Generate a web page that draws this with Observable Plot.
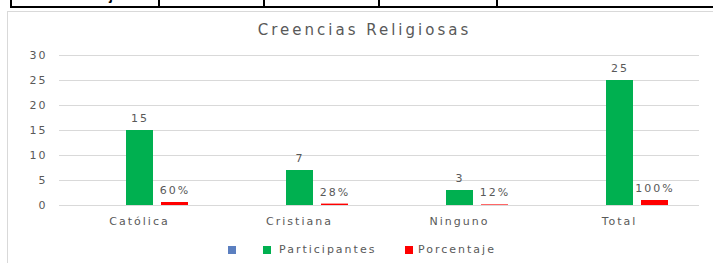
<!DOCTYPE html>
<html>
<head>
<meta charset="utf-8">
<script src="https://cdn.jsdelivr.net/npm/d3@7"></script>
<script src="https://cdn.jsdelivr.net/npm/@observablehq/plot@0.6"></script>
<style>
  html, body { margin: 0; padding: 0; background: #fff; }
  body { width: 713px; height: 263px; position: relative; overflow: hidden; font-family: "DejaVu Sans", sans-serif; }
  .tbl { position: absolute; left: 0; top: 0; width: 713px; height: 8px; overflow: hidden; }
  .cell { position: absolute; top: -20px; height: 28px; box-sizing: border-box; border-bottom: 2px solid #000; border-left: 2px solid #000; }
  .cell span { position: absolute; top: 8px; left: 0; right: 0; text-align: center; font: bold 14px/14px "Liberation Sans", Arial, sans-serif; color: #000; }
  .box { position: absolute; left: 7px; top: 11px; width: 720px; height: 270px; border-left: 1px solid #d9d9d9; border-top: 1px solid #d9d9d9; }
  .title { position: absolute; left: 0; top: 21px; width: 729px; text-align: center; font-size: 15px; letter-spacing: 3px; color: #595959; }
  #chart { position: absolute; left: 0; top: 40px; }
  .legend { position: absolute; top: 243px; left: 0; font-size: 11px; letter-spacing: 2px; color: #595959; }
  .legend .item { position: absolute; top: 0; white-space: nowrap; line-height: 13px; }
  .legend .sw { position: absolute; top: 3px; width: 8px; height: 8px; }
</style>
</head>
<body>
<div class="tbl" id="tbl"></div>
<div class="box"></div>
<div class="title">Creencias Religiosas</div>
<div id="chart"></div>
<div class="legend" id="legend"></div>
<script>
// --- data ---
const categories = ["Católica", "Cristiana", "Ninguno", "Total"];
const seriesNames = ["Serie1", "Participantes", "Porcentaje"];
const seriesLegend = ["", "Participantes", "Porcentaje"];
const serie1 = [null, null, null, null];
const participantes = [15, 7, 3, 25];
const porcentaje = [0.60, 0.28, 0.12, 1.00];
const porcentajeLabels = ["60%", "28%", "12%", "100%"];
const yTicks = [0, 5, 10, 15, 20, 25, 30];
const colors = ["#5b7fc0", "#00b050", "#ff0000"];
const tableHeader = ["Porcentaje", "60%", "28%", "12%", "100%"];

// --- clipped table row at top ---
const cellEdges = [10, 158, 263, 378, 496, 740];
const tbl = document.getElementById("tbl");
tableHeader.forEach((t, i) => {
  const c = document.createElement("div");
  c.className = "cell";
  c.style.left = cellEdges[i] + "px";
  c.style.width = (cellEdges[i + 1] - cellEdges[i]) + "px";
  const s = document.createElement("span");
  s.textContent = t;
  c.appendChild(s);
  tbl.appendChild(c);
});

// --- rows ---
const rows = [];
categories.forEach((cat, i) => {
  rows.push({cat, series: "Serie1", value: serie1[i], label: ""});
  rows.push({cat, series: "Participantes", value: participantes[i], label: String(participantes[i])});
  rows.push({cat, series: "Porcentaje", value: porcentaje[i], label: porcentajeLabels[i]});
});
const barRows = rows.filter(d => d.value != null);

const chart = Plot.plot({
  width: 713,
  height: 190,
  marginLeft: 57,
  marginRight: 13,
  marginTop: 15,
  marginBottom: 25,
  style: {fontFamily: "DejaVu Sans", fontSize: "11px", letterSpacing: "2px", color: "#595959", background: "transparent"},
  fx: {domain: categories, padding: 0, label: null, axis: "bottom", tickSize: 0, tickPadding: 12},
  x: {domain: seriesNames, paddingInner: 0.23, paddingOuter: 0.88, axis: null},
  y: {domain: [0, 30], ticks: yTicks, label: null, tickSize: 0, tickPadding: 12},
  color: {domain: seriesNames, range: colors},
  marks: [
    Plot.ruleY(yTicks, {stroke: "#d9d9d9", strokeWidth: 1}),
    Plot.barY(barRows, {fx: "cat", x: "series", y: "value", fill: "series"}),
    Plot.text(barRows, {fx: "cat", x: "series", y: "value", text: "label", dy: -12, fill: "#595959", fontSize: 11})
  ]
});
document.getElementById("chart").appendChild(chart);

// --- legend ---
const legendPos = [{sw: 228, tx: 240}, {sw: 263, tx: 279}, {sw: 405, tx: 418}];
const legend = document.getElementById("legend");
seriesLegend.forEach((name, i) => {
  const sw = document.createElement("div");
  sw.className = "sw";
  sw.style.left = legendPos[i].sw + "px";
  sw.style.background = colors[i];
  legend.appendChild(sw);
  const it = document.createElement("div");
  it.className = "item";
  it.style.left = legendPos[i].tx + "px";
  it.textContent = name;
  legend.appendChild(it);
});
</script>
</body>
</html>
